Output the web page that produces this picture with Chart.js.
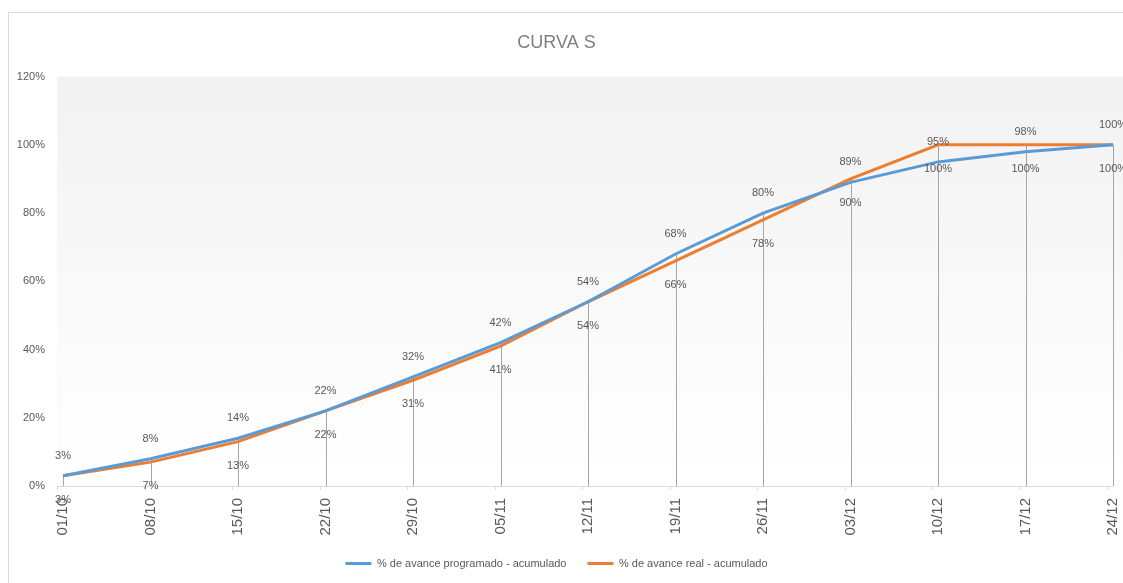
<!DOCTYPE html>
<html>
<head>
<meta charset="utf-8">
<script src="https://cdn.jsdelivr.net/npm/chart.js@4/dist/chart.umd.min.js"></script>
<style>
    html, body { margin: 0; padding: 0; background: #fff; }
    #frame {
        position: absolute; left: 8px; top: 12px;
        width: 1140px; height: 600px;
        border: 1px solid #d9d9d9;
    }
    #curva { position: absolute; left: 0; top: 0; }
</style>
</head>
<body>
<div id="frame"></div>
<canvas id="curva" width="1123" height="583"></canvas>
<script>
// datos
const semanas = ['01/10', '08/10', '15/10', '22/10', '29/10', '05/11', '12/11',
    '19/11', '26/11', '03/12', '10/12', '17/12', '24/12'];
const programado = [0.03, 0.08, 0.14, 0.22, 0.32, 0.42, 0.54, 0.68, 0.80, 0.89, 0.95, 0.98, 1.00];
const real = [0.03, 0.07, 0.13, 0.22, 0.31, 0.41, 0.54, 0.66, 0.78, 0.90, 1.00, 1.00, 1.00];
const yTicks = [0, 0.2, 0.4, 0.6, 0.8, 1.0, 1.2];

const fuente = "'Liberation Sans', Arial, sans-serif";
const gris = '#595959';

const pct = v => Math.round(v * 100) + '%';

// fondo degradado, eje x, líneas de caída y etiquetas
const fondoYCaidas = {
    id: 'fondoYCaidas',

    beforeDatasetsDraw(chart) {
        const { ctx, chartArea: { left, right, top, bottom }, scales: { x, y } } = chart;

        ctx.save();
        const grad = ctx.createLinearGradient(0, top, 0, bottom);
        grad.addColorStop(0, '#f2f2f2');
        grad.addColorStop(1, '#ffffff');
        ctx.fillStyle = grad;
        ctx.fillRect(left - 6, top, chart.width - left + 6, bottom - top);

        // líneas de caída
        ctx.strokeStyle = '#a6a6a6';
        ctx.lineWidth = 1;
        semanas.forEach((s, i) => {
            const px = Math.round(x.getPixelForValue(i)) + 0.5;
            const py = y.getPixelForValue(Math.max(programado[i], real[i]));
            ctx.beginPath();
            ctx.moveTo(px, py);
            ctx.lineTo(px, bottom);
            ctx.stroke();
        });

        // eje x
        ctx.strokeStyle = '#d9d9d9';
        ctx.beginPath();
        ctx.moveTo(left - 6, Math.round(bottom) + 0.5);
        ctx.lineTo(right, Math.round(bottom) + 0.5);
        semanas.forEach((s, i) => {
            const px = Math.round(x.getPixelForValue(i)) - 5.5;
            ctx.moveTo(px, bottom);
            ctx.lineTo(px, bottom + 4);
        });
        ctx.stroke();
        ctx.restore();
    },

    afterDatasetsDraw(chart) {
        const { ctx } = chart;
        ctx.save();
        ctx.font = '11px ' + fuente;
        ctx.fillStyle = gris;
        ctx.textAlign = 'center';
        ctx.textBaseline = 'middle';
        chart.data.datasets.forEach((ds, d) => {
            chart.getDatasetMeta(d).data.forEach((pt, i) => {
                const dy = d === 0 ? -20 : 24;
                ctx.fillText(pct(ds.data[i]), pt.x, pt.y + dy);
            });
        });
        ctx.restore();
    }
};

new Chart(
    document.getElementById('curva'),
    {
        type: 'line',
        plugins: [fondoYCaidas],
        data: {
            labels: semanas,
            datasets: [
                {
                    label: '% de avance programado - acumulado',
                    data: programado,
                    borderColor: '#5b9bd5',
                    backgroundColor: '#5b9bd5',
                    borderWidth: 3,
                    pointRadius: 0,
                    tension: 0
                },
                {
                    label: '% de avance real - acumulado',
                    data: real,
                    borderColor: '#ed7d31',
                    backgroundColor: '#ed7d31',
                    borderWidth: 3,
                    pointRadius: 0,
                    tension: 0
                }
            ]
        },
        options: {
            responsive: false,
            animation: false,
            layout: {
                padding: { left: 0, right: 10, top: 0, bottom: 4 }
            },
            plugins: {
                title: {
                    display: true,
                    text: 'CURVA S',
                    color: '#7f7f7f',
                    font: { family: fuente, size: 18, weight: 'normal' },
                    padding: { top: 32, bottom: 23 }
                },
                legend: {
                    position: 'bottom',
                    labels: {
                        color: gris,
                        font: { family: fuente, size: 11 },
                        boxWidth: 26,
                        boxHeight: 3,
                        padding: 21,
                        generateLabels: chart =>
                            Chart.defaults.plugins.legend.labels.generateLabels(chart)
                                .map(item => ({ ...item, lineWidth: 0 }))
                    }
                },
                tooltip: { enabled: false }
            },
            scales: {
                x: {
                    offset: false,
                    grid: { display: false, drawTicks: false },
                    border: { display: false },
                    afterFit: scale => {
                        scale.height = 51;
                        scale.paddingLeft = 0;
                        scale.paddingRight = 0;
                    },
                    ticks: {
                        color: gris,
                        font: { family: fuente, size: 15 },
                        minRotation: 90,
                        maxRotation: 90,
                        padding: 12,
                        autoSkip: false
                    }
                },
                y: {
                    min: 0,
                    max: 1.2,
                    grid: { display: false, drawTicks: false },
                    border: { display: false },
                    afterFit: scale => { scale.width = 63; },
                    afterBuildTicks: scale => {
                        scale.ticks = yTicks.map(v => ({ value: v }));
                    },
                    ticks: {
                        color: gris,
                        font: { family: fuente, size: 11 },
                        padding: 18,
                        callback: v => pct(v)
                    }
                }
            }
        }
    }
);
</script>
</body>
</html>
